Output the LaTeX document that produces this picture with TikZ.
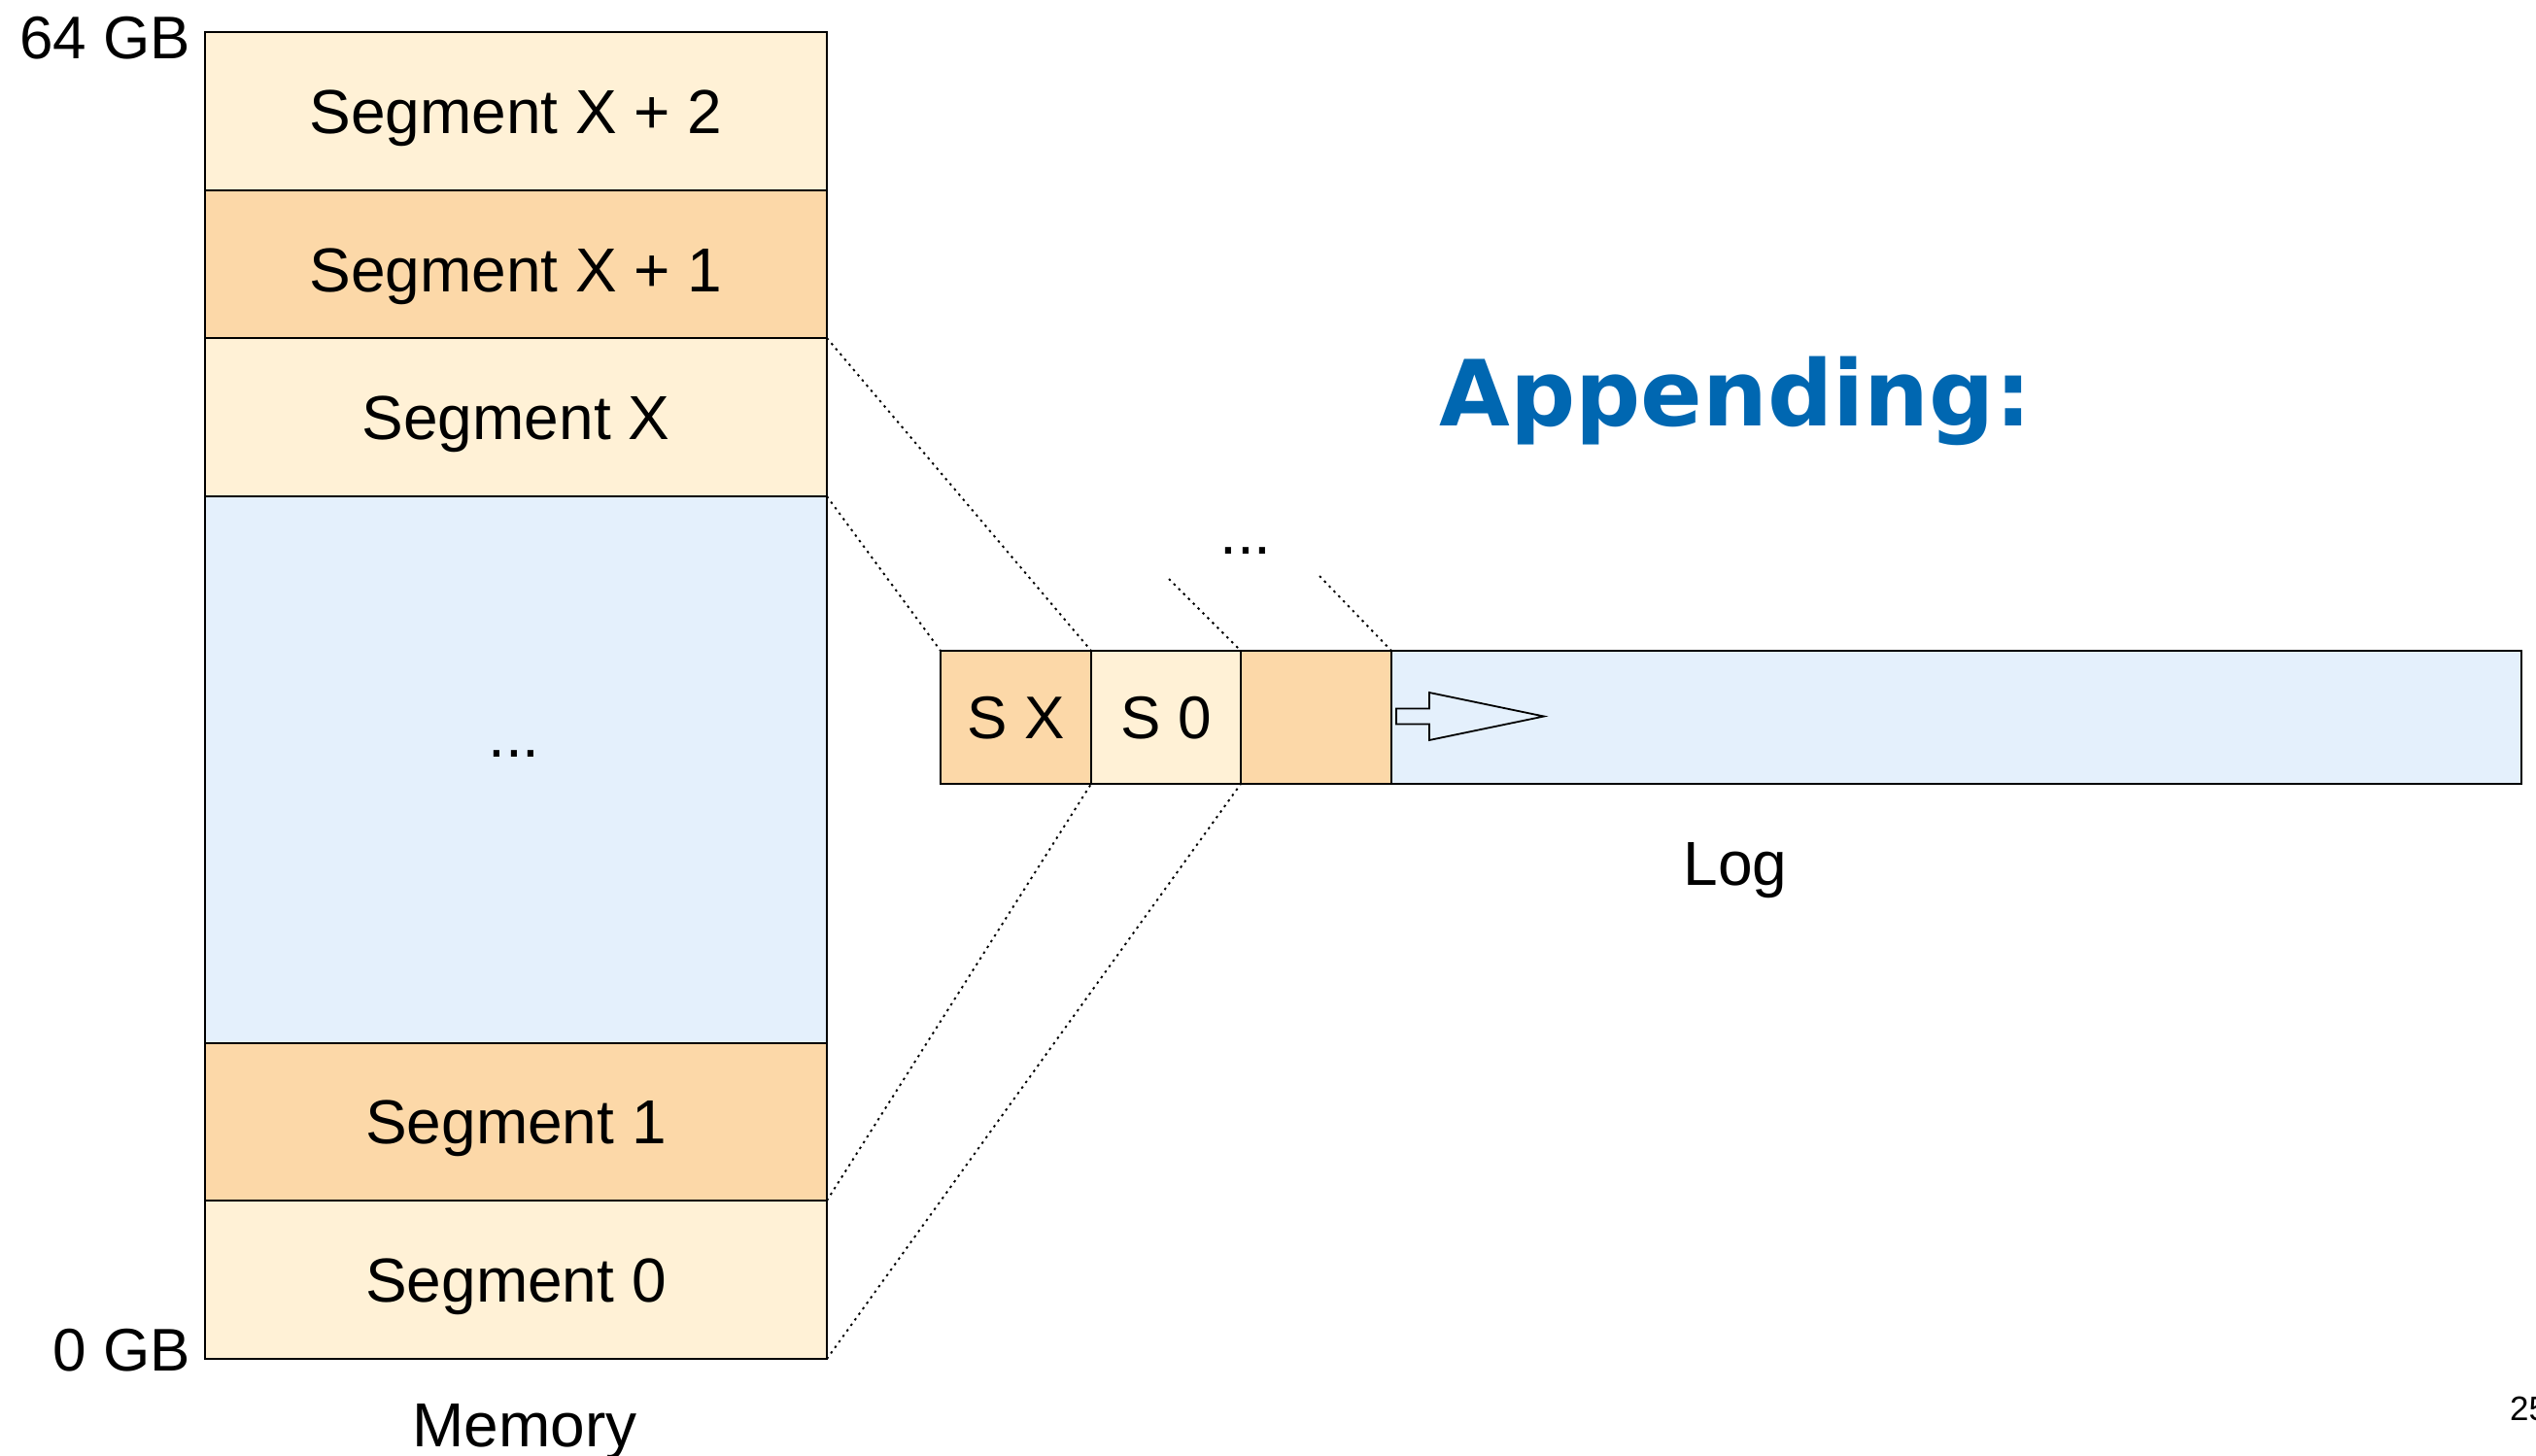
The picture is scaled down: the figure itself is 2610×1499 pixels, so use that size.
\documentclass[tikz,border=0pt]{standalone}
\usepackage{fontspec}
\setmainfont{Liberation Sans}
\newfontfamily\headfont{DejaVu Sans}
\definecolor{cream}{HTML}{FFF1D6}
\definecolor{peach}{HTML}{FCD8A8}
\definecolor{skyfill}{HTML}{E4F0FC}
\definecolor{titleblue}{HTML}{0067B1}
\begin{document}
\begin{tikzpicture}[x=1pt,y=-1pt,
  cellbox/.style={draw, line width=2pt, inner sep=0pt, outer sep=0pt,
    anchor=north west, font=\fontsize{64}{70}\selectfont,
    text height=46pt, text depth=0pt},
  memcell/.style={cellbox, minimum width=640pt},
  logcell/.style={cellbox, minimum height=137pt, font=\fontsize{62}{70}\selectfont,
    text height=44pt},
  lbl/.style={inner sep=0pt, outer sep=0pt, font=\fontsize{64}{70}\selectfont},
  guide/.style={line width=1.9pt, dash pattern=on 2.4pt off 4.6pt}
]
\useasboundingbox (0,0) rectangle (2610,1499);

% memory column, top (64 GB) to bottom (0 GB)
\node[memcell, fill=cream, minimum height=163pt] (segXtwo) at (211,33) {Segment X + 2};
\node[memcell, fill=peach, minimum height=152pt, text height=56pt] (segXone) at (211,196) {Segment X + 1};
\node[memcell, fill=cream, minimum height=163pt] (segX) at (211,348) {Segment X};
\node[memcell, fill=skyfill, minimum height=563pt] (gap) at (211,511) {};
\node[memcell, fill=peach, minimum height=162pt, text height=45pt] (segOne) at (211,1074) {Segment 1};
\node[memcell, fill=cream, minimum height=163pt, text height=45pt] (segZero) at (211,1236) {Segment 0};
\node[lbl, anchor=base] (gapdots) at (529,779) {...};

\node[lbl, anchor=base east, font=\fontsize{62}{70}\selectfont] (top) at (196,60) {64 GB};
\node[lbl, anchor=base east, font=\fontsize{62}{70}\selectfont] (bottom) at (196,1411) {0 GB};
\node[lbl, anchor=base] (memlabel) at (540,1489) {Memory};

% log strip
\node[logcell, fill=peach, minimum width=155pt] (sx) at (968,670) {S X};
\node[logcell, fill=cream, minimum width=154pt] (szero) at (1123,670) {S 0};
\node[logcell, fill=peach, minimum width=155pt] (blank) at (1277,670) {};
\node[logcell, fill=skyfill, minimum width=1163pt] (tail) at (1432,670) {};

% append direction
\draw[line width=1.8pt, fill=skyfill, line join=miter]
  (1437,729.5) -- (1471,729.5) -- (1471,713) -- (1589,737.5)
  -- (1471,762) -- (1471,745.5) -- (1437,745.5) -- cycle;

\node[lbl, anchor=base] (loglabel) at (1786,911) {Log};
\node[lbl, anchor=base] (logdots) at (1282,570) {...};
\node[inner sep=0pt, anchor=base, text=titleblue,
  font=\headfont\bfseries\fontsize{94}{100}\selectfont] (title) at (1786,438) {Appending:};
\node[inner sep=0pt, anchor=base west, font=\fontsize{35}{40}\selectfont] (pagenum) at (2583,1462) {25};

% mapping guides
\coordinate (earlierA) at (1203,596);
\coordinate (earlierB) at (1358,593);
\draw[guide] (segX.north east) -- (sx.north east);
\draw[guide] (gap.north east) -- (sx.north west);
\draw[guide] (segOne.south east) -- (sx.south east);
\draw[guide] (segZero.south east) -- (szero.south east);
\draw[guide] (earlierA) -- (szero.north east);
\draw[guide] (earlierB) -- (blank.north east);
\end{tikzpicture}
\end{document}
